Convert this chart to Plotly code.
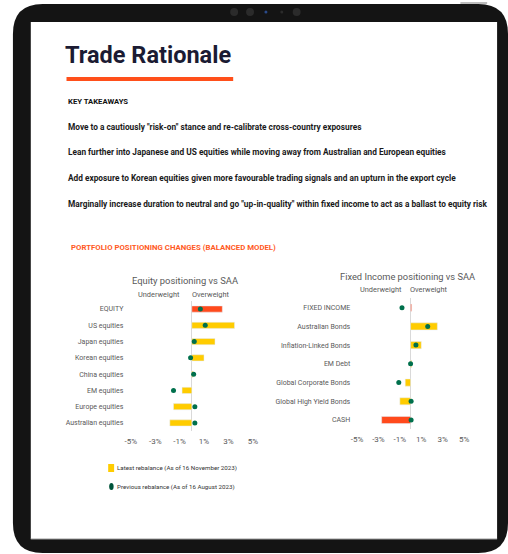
import plotly.graph_objects as go

W, H = 508, 554

# ---------------- data ----------------
eq_categories = ["EQUITY", "US equities", "Japan equities", "Korean equities",
                 "China equities", "EM equities", "Europe equities", "Australian equities"]
eq_latest = [2.5, 3.5, 1.9, 1.0, 0.1, -0.8, -1.5, -1.8]
eq_previous = [0.7, 1.1, 0.2, -0.1, 0.15, -1.5, 0.25, 0.25]
eq_bar_colors = ["#FF4A1C"] + ["#FFCC00"] * 7

fi_categories = ["FIXED INCOME", "Australian Bonds", "Inflation-Linked Bonds", "EM Debt",
                 "Global Corporate Bonds", "Global High Yield Bonds", "CASH"]
fi_latest = [0.1, 2.5, 1.0, 0.1, -0.5, -1.0, -2.7]
fi_previous = [-0.8, 1.6, 0.5, 0.0, -1.1, 0.05, 0.05]
fi_bar_colors = ["#FF4A1C", "#FFCC00", "#FFCC00", "#FFCC00", "#FFCC00", "#FFCC00", "#FF4A1C"]

x_tickvals = [-5, -3, -1, 1, 3, 5]
x_ticktext = ["-5%", "-3%", "-1%", "1%", "3%", "5%"]

takeaways = [
    "Move to a cautiously \"risk-on\" stance and re-calibrate cross-country exposures",
    "Lean further into Japanese and US equities while moving away from Australian and European equities",
    "Add exposure to Korean equities given more favourable trading signals and an upturn in the export cycle",
    "Marginally increase duration to neutral and go \"up-in-quality\" within fixed income to act as a ballast to equity risk",
]

latest_label = "Latest rebalance (As of 16 November 2023)"
previous_label = "Previous rebalance (As of 16 August 2023)"

# ---------------- helpers ----------------
def px(x):
    return x / W

def py(y):
    return 1 - y / H

FONT = "Roboto, Arial, sans-serif"
GREEN = "#00704C"
GRAY_TXT = "#595959"

fig = go.Figure()

# Equity chart
fig.add_trace(go.Bar(y=eq_categories, x=eq_latest, orientation="h", marker_color=eq_bar_colors,
                     width=0.38, xaxis="x", yaxis="y", showlegend=False, name=latest_label))
fig.add_trace(go.Scatter(y=eq_categories, x=eq_previous, mode="markers",
                         marker=dict(color=GREEN, size=5), xaxis="x", yaxis="y",
                         showlegend=False, name=previous_label))
# Fixed income chart
fig.add_trace(go.Bar(y=fi_categories, x=fi_latest, orientation="h", marker_color=fi_bar_colors,
                     width=0.38, xaxis="x2", yaxis="y2", showlegend=False, name=latest_label))
fig.add_trace(go.Scatter(y=fi_categories, x=fi_previous, mode="markers",
                         marker=dict(color=GREEN, size=5), xaxis="x2", yaxis="y2",
                         showlegend=False, name=previous_label))

# axis geometry (pixels)
eq_zero, eq_scale = 189.3, 12.3
eq_range = [-5.2, 5.5]
fi_zero, fi_scale = 409.8, 10.8
fi_range = [-5.35, 5.5]

eq_dom = [px(eq_zero + eq_range[0] * eq_scale), px(eq_zero + eq_range[1] * eq_scale)]
fi_dom = [px(fi_zero + fi_range[0] * fi_scale), px(fi_zero + fi_range[1] * fi_scale)]
eq_ydom = [py(431.1), py(300.9)]
fi_ydom = [py(429.4), py(298.3)]

xcommon = dict(tickvals=x_tickvals, ticktext=x_ticktext, showgrid=False, showline=False,
               zeroline=True, zerolinecolor="#D9D9D9", zerolinewidth=1, ticks="",
               ticklabelstandoff=4,
               tickfont=dict(family=FONT, size=8, color=GRAY_TXT), fixedrange=True)
ycommon = dict(showgrid=False, showline=False, zeroline=False, ticks="",
               tickfont=dict(family=FONT, size=7, color=GRAY_TXT), type="category", fixedrange=True)

fig.update_layout(
    xaxis=dict(domain=eq_dom, range=eq_range, anchor="y", **xcommon),
    yaxis=dict(domain=eq_ydom, anchor="x", categoryorder="array", categoryarray=eq_categories,
               range=[len(eq_categories) - 0.5, -0.5], ticklabelstandoff=4, **ycommon),
    xaxis2=dict(domain=fi_dom, range=fi_range, anchor="y2", **xcommon),
    yaxis2=dict(domain=fi_ydom, anchor="x2", categoryorder="array", categoryarray=fi_categories,
                range=[len(fi_categories) - 0.5, -0.5], ticklabelstandoff=2, **ycommon),
    width=W, height=H, margin=dict(l=0, r=0, t=0, b=0),
    paper_bgcolor="white", plot_bgcolor="rgba(0,0,0,0)",
)

shapes = []
# tablet frame
r = 30
x0, y0, x1, y1 = 9, 4, 508, 553
path = (f"M {px(x0+r)},{py(y0)} L {px(x1-r)},{py(y0)} Q {px(x1)},{py(y0)} {px(x1)},{py(y0+r)} "
        f"L {px(x1)},{py(y1-r)} Q {px(x1)},{py(y1)} {px(x1-r)},{py(y1)} "
        f"L {px(x0+r)},{py(y1)} Q {px(x0)},{py(y1)} {px(x0)},{py(y1-r)} "
        f"L {px(x0)},{py(y0+r)} Q {px(x0)},{py(y0)} {px(x0+r)},{py(y0)} Z")
shapes.append(dict(type="path", path=path, xref="paper", yref="paper",
                   fillcolor="#141414", line=dict(width=0), layer="below"))
# top button
shapes.append(dict(type="rect", xref="paper", yref="paper", x0=px(460), x1=px(487), y0=py(4), y1=py(2),
                   fillcolor="#BDBDBD", line=dict(width=0), layer="below"))
# screen
shapes.append(dict(type="rect", xref="paper", yref="paper", x0=px(27), x1=px(497), y0=py(539), y1=py(22),
                   fillcolor="white", line=dict(width=0), layer="below"))
shapes.append(dict(type="line", xref="paper", yref="paper", x0=px(27), x1=px(497), y0=py(539), y1=py(539),
                   line=dict(color="#9A9A9A", width=1), layer="below"))
# camera dots
for cx, rr, col in [(232, 4, "#2B2B2B"), (248, 4, "#2B2B2B"), (264, 1.5, "#2A4A8A"),
                    (280, 1.5, "#2B2B2B"), (295, 4, "#2B2B2B")]:
    shapes.append(dict(type="circle", xref="paper", yref="paper", x0=px(cx-rr), x1=px(cx+rr),
                       y0=py(12+rr), y1=py(12-rr), fillcolor=col, line=dict(width=0), layer="below"))
# orange underline
shapes.append(dict(type="rect", xref="paper", yref="paper", x0=px(63), x1=px(231), y0=py(81), y1=py(77),
                   fillcolor="#FF4F1A", line=dict(width=0)))
# legend symbols
shapes.append(dict(type="rect", xref="paper", yref="paper", x0=px(105), x1=px(111), y0=py(472), y1=py(464),
                   fillcolor="#FFCC00", line=dict(width=0)))
shapes.append(dict(type="circle", xref="paper", yref="paper", x0=px(106), x1=px(110.5), y0=py(490), y1=py(483),
                   fillcolor="#00543A", line=dict(width=0)))
fig.update_layout(shapes=shapes)

ann = []
def text(x, y, s, size, color="#111", family=FONT, xanchor="left", bold=False):
    ann.append(dict(x=px(x), y=py(y), xref="paper", yref="paper", text=(f"<b>{s}</b>" if bold else s),
                    showarrow=False, xanchor=xanchor, yanchor="middle",
                    font=dict(size=size, color=color, family=family)))

text(59, 55, "Trade Rationale", 23.5, color="#1B1B33", bold=True)
text(62, 101, "KEY TAKEAWAYS", 7.7, bold=True)
for yy, s in zip([126.7, 152.3, 178.3, 204], takeaways):
    text(62, yy, s, 8.3, color="#1A1A1A", bold=True)
text(66, 247, "PORTFOLIO POSITIONING CHANGES (BALANCED MODEL)", 7.8, color="#FF5A1F", bold=True)

text(182, 280, "Equity positioning vs SAA", 9.4, color=GRAY_TXT, xanchor="center")
text(156, 294, "Underweight", 7.4, color=GRAY_TXT, xanchor="center")
text(209, 294, "Overweight", 7.4, color=GRAY_TXT, xanchor="center")
text(407, 276, "Fixed Income positioning vs SAA", 9.3, color=GRAY_TXT, xanchor="center")
text(380, 289, "Underweight", 7.4, color=GRAY_TXT, xanchor="center")
text(428, 289, "Overweight", 7.4, color=GRAY_TXT, xanchor="center")

text(112, 468, latest_label, 6.2, color="#333")
text(112, 487, previous_label, 6.2, color="#333")
fig.update_layout(annotations=ann)

fig.write_html("out.html", config={"displayModeBar": False, "staticPlot": True},
               post_script="document.body.style.margin='0';document.body.style.overflow='hidden';")
